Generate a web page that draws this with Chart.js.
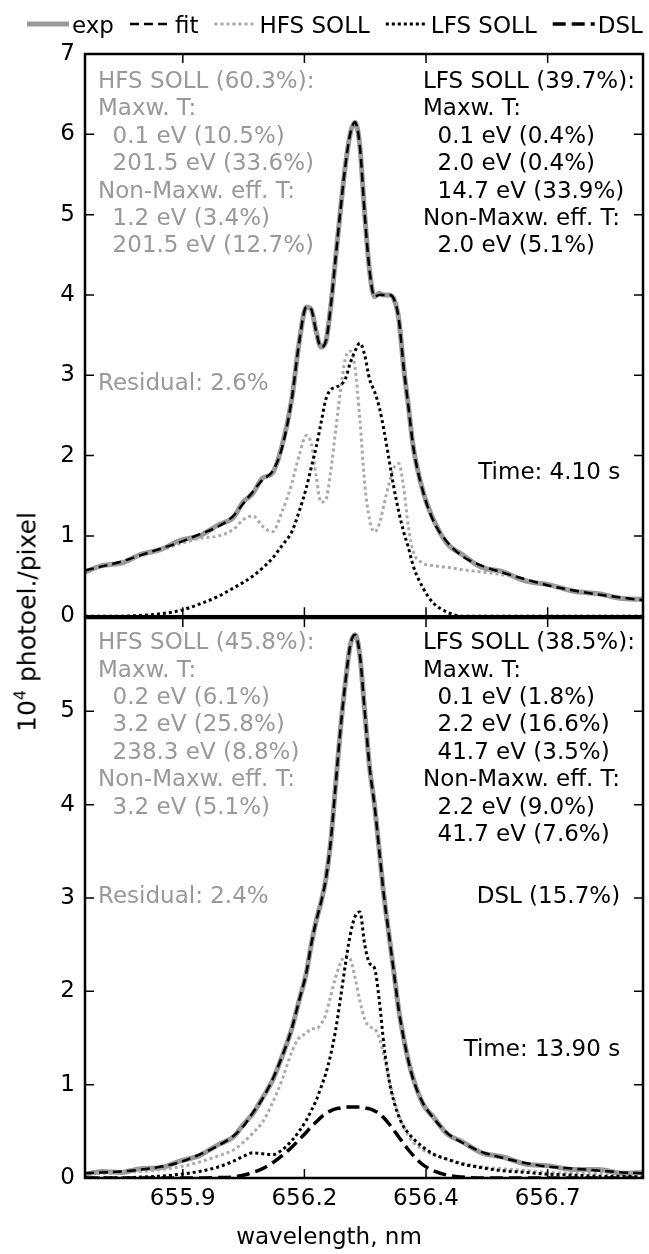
<!DOCTYPE html>
<html>
<head>
<meta charset="utf-8">
<script src="https://cdn.jsdelivr.net/npm/chart.js@4.4.1/dist/chart.umd.min.js"></script>
<style>
  html, body { margin: 0; padding: 0; background: #fff; }
  #wrap { position: relative; width: 649px; height: 1254px; overflow: hidden; font-family: 'DejaVu Sans', sans-serif; }
  canvas { position: absolute; left: 0; }
  #cTop { top: 0; }
  #cBot { top: 590px; }
  #ylab { position: absolute; left: 27px; top: 622px; transform: translate(-50%, -50%) rotate(-90deg);
          font-size: 25px; white-space: nowrap; color: #000; line-height: 1; }
  #ylab sup { font-size: 16px; vertical-align: 10px; line-height: 0; }
  #xlab { position: absolute; left: 329px; top: 1236px; transform: translate(-50%, -50%);
          font-size: 23px; white-space: nowrap; color: #000; line-height: 1; }
</style>
</head>
<body>
<div id="wrap">
  <canvas id="cTop" width="649" height="640"></canvas>
  <canvas id="cBot" width="649" height="664"></canvas>
  <div id="ylab">10<sup>4</sup> photoel./pixel</div>
  <div id="xlab">wavelength, nm</div>
</div>
<script>
// wavelength grid (nm), shared by all curves
const wl = [655.725, 655.76, 655.80, 655.84, 655.88, 655.92, 655.96, 656.00, 656.03, 656.05,
            656.07, 656.09, 656.11, 656.13, 656.15, 656.165, 656.18, 656.19, 656.20, 656.21,
            656.22, 656.23, 656.24, 656.25, 656.26, 656.27, 656.28, 656.29, 656.30, 656.31,
            656.32, 656.33, 656.34, 656.35, 656.36, 656.37, 656.38, 656.39, 656.40, 656.42,
            656.44, 656.47, 656.50, 656.54, 656.58, 656.63, 656.68, 656.73, 656.78, 656.83, 656.872];

// top panel, t = 4.10 s
const topExp = [0.55, 0.63, 0.66, 0.77, 0.83, 0.94, 1.0, 1.14, 1.23, 1.42,
                1.53, 1.72, 1.78, 2.12, 2.7, 3.4, 3.85, 3.82, 3.55, 3.35,
                3.42, 3.85, 4.45, 5.05, 5.6, 6.0, 6.15, 5.85, 5.0, 4.3,
                3.98, 4.02, 4.0, 4.0, 3.95, 3.7, 3.1, 2.6, 2.1, 1.55,
                1.22, 0.9, 0.77, 0.61, 0.56, 0.44, 0.39, 0.31, 0.28, 0.22, 0.21];
const topFit = [0.57, 0.62, 0.68, 0.76, 0.84, 0.92, 1.02, 1.12, 1.25, 1.4,
                1.55, 1.7, 1.8, 2.1, 2.7, 3.4, 3.85, 3.82, 3.55, 3.35,
                3.42, 3.85, 4.45, 5.05, 5.6, 6.0, 6.15, 5.85, 5.0, 4.3,
                3.98, 4.0, 4.0, 4.0, 3.95, 3.7, 3.1, 2.6, 2.1, 1.55,
                1.2, 0.92, 0.75, 0.63, 0.55, 0.46, 0.38, 0.32, 0.27, 0.23, 0.2];
const topHfs = [0.57, 0.62, 0.68, 0.75, 0.82, 0.9, 0.97, 1.0, 1.08, 1.2,
                1.25, 1.12, 1.05, 1.3, 1.65, 2.0, 2.25, 2.15, 1.75, 1.42,
                1.45, 1.8, 2.3, 2.8, 3.2, 3.3, 3.1, 2.45, 1.65, 1.2,
                1.05, 1.15, 1.4, 1.65, 1.85, 1.9, 1.6, 1.1, 0.8, 0.66,
                0.63, 0.61, 0.58, 0.55, 0.52, 0.46, 0.38, 0.32, 0.27, 0.23, 0.2];
const topLfs = [0, 0, 0, 0.01, 0.03, 0.07, 0.15, 0.25, 0.35, 0.42,
                0.5, 0.6, 0.72, 0.88, 1.05, 1.3, 1.6, 1.85, 2.1, 2.4,
                2.7, 2.82, 2.85, 2.88, 2.95, 3.15, 3.3, 3.4, 3.25, 2.95,
                2.8, 2.6, 2.3, 1.95, 1.6, 1.3, 1.05, 0.85, 0.62, 0.35,
                0.17, 0.05, 0, 0, 0, 0, 0, 0, 0, 0, 0];

// bottom panel, t = 13.90 s
const botExp = [0.04, 0.07, 0.06, 0.1, 0.11, 0.18, 0.24, 0.36, 0.44, 0.57,
                0.69, 0.86, 1.04, 1.3, 1.6, 1.9, 2.2, 2.5, 2.75, 2.95,
                3.2, 3.6, 4.2, 4.8, 5.3, 5.7, 5.82, 5.6, 5.0, 4.4,
                4.0, 3.5, 3.0, 2.6, 2.2, 1.8, 1.5, 1.25, 1.06, 0.79,
                0.66, 0.47, 0.39, 0.27, 0.23, 0.15, 0.13, 0.09, 0.09, 0.05, 0.06];
const botFit = [0.05, 0.06, 0.07, 0.09, 0.12, 0.17, 0.25, 0.35, 0.45, 0.55,
                0.7, 0.85, 1.05, 1.3, 1.6, 1.9, 2.2, 2.5, 2.75, 2.95,
                3.2, 3.6, 4.2, 4.8, 5.3, 5.7, 5.82, 5.6, 5.0, 4.4,
                4.0, 3.5, 3.0, 2.6, 2.2, 1.8, 1.5, 1.25, 1.05, 0.8,
                0.65, 0.48, 0.38, 0.28, 0.22, 0.16, 0.12, 0.1, 0.08, 0.06, 0.05];
const botHfs = [0.05, 0.05, 0.06, 0.07, 0.09, 0.12, 0.17, 0.24, 0.3, 0.38,
                0.48, 0.6, 0.8, 1.05, 1.35, 1.5, 1.55, 1.6, 1.6, 1.65,
                1.75, 1.95, 2.15, 2.3, 2.38, 2.35, 2.15, 1.9, 1.7, 1.62,
                1.6, 1.5, 1.3, 1.05, 0.85, 0.68, 0.55, 0.45, 0.38, 0.3,
                0.25, 0.2, 0.16, 0.12, 0.1, 0.08, 0.06, 0.05, 0.05, 0.05, 0.05];
const botLfs = [0, 0, 0, 0.01, 0.02, 0.04, 0.07, 0.12, 0.18, 0.23,
                0.27, 0.26, 0.25, 0.3, 0.4, 0.5, 0.62, 0.72, 0.83, 0.97,
                1.12, 1.32, 1.58, 1.92, 2.28, 2.6, 2.8, 2.85, 2.5, 2.3,
                2.25, 1.9, 1.4, 1.05, 0.82, 0.66, 0.55, 0.48, 0.42, 0.33,
                0.26, 0.2, 0.15, 0.11, 0.08, 0.06, 0.04, 0.03, 0.02, 0.02, 0.01];
const botDsl = [0, 0, 0, 0, 0, 0, 0, 0.005, 0.01, 0.03,
                0.06, 0.1, 0.16, 0.24, 0.33, 0.41, 0.49, 0.55, 0.6, 0.65,
                0.69, 0.72, 0.74, 0.75, 0.76, 0.76, 0.76, 0.76, 0.75, 0.74,
                0.72, 0.69, 0.64, 0.58, 0.51, 0.44, 0.37, 0.3, 0.24, 0.14,
                0.08, 0.03, 0.01, 0, 0, 0, 0, 0, 0, 0, 0];

// axes
const xMin = 655.725, xMax = 656.872;
const xTicks = [655.926, 656.176, 656.426, 656.676];
const xTickLabels = ['655.9', '656.2', '656.4', '656.7'];
const yTicksTop = [0, 1, 2, 3, 4, 5, 6, 7];
const yTicksBot = [0, 1, 2, 3, 4, 5];

// annotation texts
const topHfsNote = ['HFS SOLL (60.3%):', 'Maxw. T:', '  0.1 eV (10.5%)', '  201.5 eV (33.6%)',
                    'Non-Maxw. eff. T:', '  1.2 eV (3.4%)', '  201.5 eV (12.7%)'];
const topLfsNote = ['LFS SOLL (39.7%):', 'Maxw. T:', '  0.1 eV (0.4%)', '  2.0 eV (0.4%)',
                    '  14.7 eV (33.9%)', 'Non-Maxw. eff. T:', '  2.0 eV (5.1%)'];
const botHfsNote = ['HFS SOLL (45.8%):', 'Maxw. T:', '  0.2 eV (6.1%)', '  3.2 eV (25.8%)',
                    '  238.3 eV (8.8%)', 'Non-Maxw. eff. T:', '  3.2 eV (5.1%)'];
const botLfsNote = ['LFS SOLL (38.5%):', 'Maxw. T:', '  0.1 eV (1.8%)', '  2.2 eV (16.6%)',
                    '  41.7 eV (3.5%)', 'Non-Maxw. eff. T:', '  2.2 eV (9.0%)', '  41.7 eV (7.6%)'];

const FAMILY = "'DejaVu Sans', sans-serif";
const FONT = { family: FAMILY, size: 23 };
const GRAY_TXT = '#999999';
const TICK = 9, LINE_H = 27.4;

const styles = {
  exp: { label: 'exp', color: '#999999', width: 5, dash: [], order: 4 },
  fit: { label: 'fit', color: '#000000', width: 2.5, dash: [9, 5], order: 0 },
  hfs: { label: 'HFS SOLL', color: '#aaaaaa', width: 3, dash: [3, 3], order: 3 },
  lfs: { label: 'LFS SOLL', color: '#000000', width: 3, dash: [3, 3], order: 2 },
  dsl: { label: 'DSL', color: '#000000', width: 3.5, dash: [13, 6], order: 1 }
};
const legendKeys = ['exp', 'fit', 'hfs', 'lfs', 'dsl'];

function series(key, ys) {
  const s = styles[key];
  return {
    label: s.label,
    data: wl.map((x, i) => ({ x: x, y: ys[i] })),
    borderColor: s.color,
    borderWidth: s.width,
    borderDash: s.dash,
    pointRadius: 0,
    fill: false,
    cubicInterpolationMode: 'monotone',
    order: s.order
  };
}

function drawLegend(ctx) {
  ctx.save();
  ctx.font = `23px ${FAMILY}`;
  ctx.textAlign = 'left';
  ctx.textBaseline = 'alphabetic';
  let x = 27;
  legendKeys.forEach(k => {
    const s = styles[k];
    ctx.strokeStyle = s.color;
    ctx.lineWidth = s.width;
    ctx.setLineDash(s.dash);
    ctx.beginPath();
    ctx.moveTo(x, 24);
    ctx.lineTo(x + 42, 24);
    ctx.stroke();
    ctx.setLineDash([]);
    ctx.fillStyle = '#000';
    ctx.fillText(s.label, x + 45, 33);
    x += 45 + ctx.measureText(s.label).width + 16;
  });
  ctx.restore();
}

// frame, inward ticks, text blocks
function framePlugin(cfg) {
  return {
    id: 'panelFrame',
    afterDraw(chart) {
      const { ctx, chartArea: a, scales } = chart;
      ctx.save();
      ctx.strokeStyle = '#000';
      ctx.lineWidth = 1.5;
      ctx.beginPath();
      xTicks.forEach(v => {
        const px = scales.x.getPixelForValue(v);
        ctx.moveTo(px, a.top); ctx.lineTo(px, a.top + TICK);
        ctx.moveTo(px, a.bottom); ctx.lineTo(px, a.bottom - TICK);
      });
      cfg.yTicks.forEach(v => {
        const py = scales.y.getPixelForValue(v);
        ctx.moveTo(a.left, py); ctx.lineTo(a.left + TICK, py);
        ctx.moveTo(a.right, py); ctx.lineTo(a.right - TICK, py);
      });
      ctx.stroke();
      ctx.lineWidth = 2.5;
      ctx.strokeRect(a.left, a.top, a.right - a.left, a.bottom - a.top);

      ctx.font = `23px ${FAMILY}`;
      ctx.textBaseline = 'middle';
      cfg.notes.forEach(n => {
        ctx.fillStyle = n.color;
        ctx.textAlign = n.align;
        const x = a.left + n.fx * (a.right - a.left);
        const y = a.top + n.fy * (a.bottom - a.top);
        n.lines.forEach((t, i) => ctx.fillText(t, x, y + i * LINE_H));
      });
      ctx.restore();
      if (cfg.legend) drawLegend(ctx);
    }
  };
}

function yScale(max, ticks) {
  return {
    min: 0, max: max,
    afterBuildTicks: s => { s.ticks = ticks.map(v => ({ value: v })); },
    afterFit: s => { s.width = 85; },
    grid: { display: false, drawTicks: false },
    border: { display: false },
    ticks: { font: FONT, color: '#000', padding: 10, autoSkip: false }
  };
}

new Chart(document.getElementById('cTop'), {
  type: 'line',
  data: { datasets: [series('exp', topExp), series('fit', topFit), series('hfs', topHfs), series('lfs', topLfs)] },
  options: {
    responsive: false, animation: false, events: [],
    layout: { padding: { top: 54, right: 6, bottom: 22, left: 0 } },
    plugins: { legend: { display: false }, tooltip: { enabled: false } },
    scales: {
      x: { type: 'linear', min: xMin, max: xMax, display: false },
      y: yScale(7, yTicksTop)
    }
  },
  plugins: [framePlugin({
    yTicks: yTicksTop, legend: true,
    notes: [
      { lines: topHfsNote, color: GRAY_TXT, align: 'left', fx: 0.0233, fy: 0.050 },
      { lines: topLfsNote, color: '#000', align: 'left', fx: 0.6057, fy: 0.050 },
      { lines: ['Residual: 2.6%'], color: GRAY_TXT, align: 'left', fx: 0.0233, fy: 0.587 },
      { lines: ['Time: 4.10 s'], color: '#000', align: 'right', fx: 0.959, fy: 0.746 }
    ]
  })]
});

new Chart(document.getElementById('cBot'), {
  type: 'line',
  data: { datasets: [series('exp', botExp), series('fit', botFit), series('hfs', botHfs), series('lfs', botLfs), series('dsl', botDsl)] },
  options: {
    responsive: false, animation: false, events: [],
    layout: { padding: { top: 28, right: 6, bottom: 0, left: 0 } },
    plugins: { legend: { display: false }, tooltip: { enabled: false } },
    scales: {
      x: {
        type: 'linear', min: xMin, max: xMax,
        afterBuildTicks: s => { s.ticks = xTicks.map(v => ({ value: v })); },
        afterFit: s => { s.height = 76; },
        grid: { display: false, drawTicks: false },
        border: { display: false },
        ticks: { font: FONT, color: '#000', padding: 7, maxRotation: 0, autoSkip: false,
                 callback: (v, i) => xTickLabels[i] }
      },
      y: yScale(6, yTicksBot)
    }
  },
  plugins: [framePlugin({
    yTicks: yTicksBot, legend: false,
    notes: [
      { lines: botHfsNote, color: GRAY_TXT, align: 'left', fx: 0.0233, fy: 0.045 },
      { lines: botLfsNote, color: '#000', align: 'left', fx: 0.6057, fy: 0.045 },
      { lines: ['Residual: 2.4%'], color: GRAY_TXT, align: 'left', fx: 0.0233, fy: 0.498 },
      { lines: ['DSL (15.7%)'], color: '#000', align: 'right', fx: 0.959, fy: 0.498 },
      { lines: ['Time: 13.90 s'], color: '#000', align: 'right', fx: 0.959, fy: 0.771 }
    ]
  })]
});
</script>
</body>
</html>
